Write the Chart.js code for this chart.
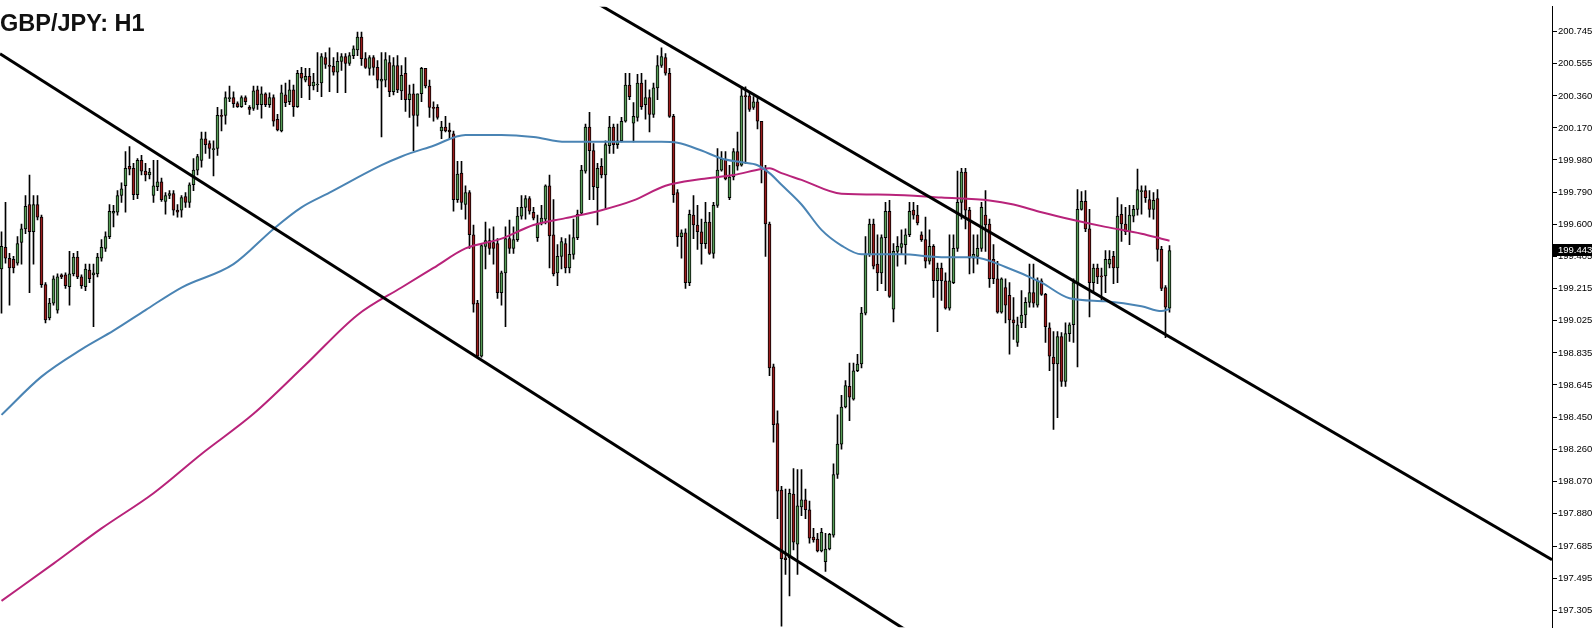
<!DOCTYPE html>
<html>
<head>
<meta charset="utf-8">
<title>GBP/JPY: H1</title>
<script src="https://cdn.jsdelivr.net/npm/chart.js@4.4.1/dist/chart.umd.min.js"></script>
<style>
  html, body { margin: 0; padding: 0; background: #fff; }
  #wrap { position: relative; width: 1592px; height: 634px; }
  #title {
    position: absolute; left: 0; top: 12px;
    font: bold 23.5px "Liberation Sans", Arial, sans-serif;
    line-height: 1; color: #111; white-space: nowrap;
  }
</style>
</head>
<body>
<div id="wrap">
  <canvas id="chart" width="1592" height="634"></canvas>
  <div id="title">GBP/JPY: H1</div>
</div>
<script>
// ---------------------------------------------------------
// GBP/JPY H1 candles (one per hour)
// ---------------------------------------------------------
const openP = [
  199.333,199.461,199.397,199.391,199.368,199.490,199.571,199.716,199.554,199.716,
  199.641,199.240,199.042,199.130,199.089,199.298,199.298,199.228,199.304,199.403,
  199.286,199.228,199.327,199.298,199.304,199.397,199.455,199.525,199.664,199.670,
  199.769,199.827,199.943,199.931,199.774,199.978,199.914,199.891,199.769,199.821,
  199.850,199.734,199.769,199.780,199.682,199.682,199.763,199.728,199.833,199.920,
  199.978,200.106,200.077,200.042,200.048,200.245,200.245,200.344,200.350,200.315,
  200.297,200.350,200.292,200.286,200.396,200.309,200.373,200.309,200.350,200.222,
  200.152,200.367,200.326,200.396,200.297,200.495,200.454,200.477,200.419,200.425,
  200.437,200.588,200.541,200.536,200.501,200.565,200.594,200.553,200.600,200.634,
  200.710,200.582,200.524,200.588,200.530,200.448,200.454,200.559,200.385,200.541,
  200.390,200.495,200.338,200.373,200.245,200.373,200.524,200.419,200.292,200.292,
  200.152,200.175,200.158,200.135,199.745,199.902,199.716,199.786,199.536,199.130,
  198.816,199.467,199.501,199.490,199.484,199.193,199.310,199.513,199.455,199.507,
  199.647,199.699,199.751,199.670,199.519,199.606,199.629,199.827,199.536,199.310,
  199.408,199.484,199.339,199.420,199.519,199.664,199.914,200.175,200.036,199.815,
  199.943,199.891,200.065,200.175,200.071,200.094,200.210,200.425,200.199,200.233,
  200.437,200.309,200.350,200.251,200.408,200.541,200.588,200.495,200.239,199.786,
  199.525,199.548,199.252,199.653,199.594,199.554,199.484,199.612,199.426,199.711,
  199.920,199.984,199.757,199.879,200.030,199.949,200.361,200.361,200.292,200.326,
  200.210,199.931,199.600,198.752,198.415,198.020,197.619,197.619,197.997,197.700,
  197.921,197.962,197.904,197.741,197.729,197.660,197.596,197.671,197.753,198.113,
  198.293,198.514,198.636,198.560,198.729,198.769,199.071,199.420,199.600,199.362,
  199.310,199.519,199.676,199.095,199.438,199.461,199.478,199.536,199.682,199.653,
  199.536,199.507,199.379,199.467,199.263,199.339,199.263,199.101,199.252,199.455,
  199.728,199.908,199.682,199.397,199.408,199.455,199.653,199.600,199.391,199.275,
  199.077,199.223,199.176,199.031,198.897,199.013,199.060,199.135,199.193,199.118,
  199.263,199.182,198.984,198.810,198.769,198.932,198.665,198.949,199.002,199.252,
  199.687,199.734,199.571,199.252,199.339,199.292,199.292,199.362,199.408,199.339,
  199.658,199.600,199.554,199.647,199.687,199.792,199.798,199.745,199.687,199.751,
  199.449,199.223,199.101
];
const highP = [
  199.554,199.728,199.426,199.408,199.525,199.600,199.769,199.891,199.769,199.769,
  199.653,199.252,199.159,199.292,199.304,199.304,199.310,199.438,199.426,199.438,
  199.298,199.362,199.362,199.362,199.426,199.507,199.554,199.716,199.711,199.798,
  199.844,200.030,200.059,199.960,199.989,200.007,199.960,199.931,199.978,199.978,
  199.873,199.786,199.798,199.798,199.716,199.769,199.786,199.844,199.989,200.013,
  200.146,200.146,200.094,200.094,200.292,200.280,200.385,200.419,200.385,200.326,
  200.361,200.361,200.303,200.419,200.419,200.414,200.379,200.379,200.367,200.251,
  200.425,200.437,200.454,200.425,200.512,200.530,200.524,200.524,200.495,200.617,
  200.611,200.617,200.646,200.588,200.617,200.611,200.611,200.617,200.658,200.739,
  200.739,200.617,200.600,200.600,200.570,200.617,200.617,200.600,200.588,200.600,
  200.541,200.588,200.425,200.431,200.373,200.530,200.524,200.454,200.326,200.309,
  200.210,200.239,200.199,200.152,199.972,199.972,199.827,199.798,199.594,199.147,
  199.484,199.612,199.571,199.583,199.513,199.321,199.583,199.624,199.583,199.699,
  199.769,199.769,199.763,199.699,199.653,199.711,199.833,199.891,199.745,199.478,
  199.519,199.513,199.536,199.629,199.682,199.949,200.193,200.263,200.077,199.960,
  199.989,200.094,200.239,200.193,200.193,200.233,200.495,200.495,200.321,200.489,
  200.495,200.454,200.396,200.437,200.600,200.646,200.611,200.524,200.251,199.804,
  199.565,199.571,199.682,199.769,199.711,199.629,199.728,199.670,199.728,200.048,
  200.030,200.030,199.949,200.048,200.146,200.414,200.414,200.385,200.356,200.356,
  200.210,199.949,199.612,198.769,198.491,198.043,198.026,198.026,198.148,198.142,
  198.142,198.026,197.956,197.793,197.764,197.793,197.764,197.764,198.177,198.467,
  198.583,198.671,198.775,198.775,198.827,199.106,199.525,199.629,199.629,199.536,
  199.536,199.728,199.740,199.484,199.525,199.565,199.571,199.728,199.728,199.711,
  199.554,199.641,199.565,199.478,199.368,199.368,199.310,199.536,199.536,199.914,
  199.931,199.931,199.699,199.536,199.536,199.728,199.798,199.629,199.478,199.379,
  199.281,199.275,199.252,199.164,199.048,199.205,199.164,199.362,199.362,199.281,
  199.275,199.188,199.013,198.961,198.961,198.955,199.013,199.013,199.275,199.804,
  199.792,199.798,199.687,199.362,199.362,199.339,199.443,199.443,199.438,199.757,
  199.716,199.699,199.711,199.711,199.926,199.827,199.827,199.798,199.786,199.804,
  199.467,199.234,199.472
];
const lowP = [
  199.071,199.368,199.118,199.310,199.356,199.362,199.542,199.193,199.362,199.624,
  199.223,199.013,199.031,199.118,199.071,199.275,199.217,199.118,199.292,199.275,
  199.217,199.205,199.252,198.990,199.286,199.379,199.438,199.513,199.583,199.653,
  199.728,199.670,199.891,199.745,199.751,199.891,199.856,199.867,199.728,199.798,
  199.734,199.658,199.751,199.653,199.641,199.641,199.699,199.699,199.798,199.891,
  199.937,200.019,199.989,199.885,200.007,200.152,200.193,200.326,200.292,200.292,
  200.292,200.309,200.251,200.274,200.280,200.228,200.297,200.292,200.181,200.152,
  200.146,200.297,200.309,200.239,200.292,200.350,200.443,200.338,200.396,200.385,
  200.356,200.524,200.385,200.483,200.379,200.512,200.379,200.541,200.582,200.600,
  200.541,200.524,200.483,200.483,200.408,200.117,200.414,200.356,200.367,200.379,
  200.338,200.268,200.233,200.036,200.181,200.326,200.408,200.233,200.210,200.222,
  200.106,200.146,200.106,199.676,199.728,199.687,199.629,199.455,199.077,198.810,
  198.810,199.333,199.420,199.362,199.159,199.118,198.990,199.426,199.426,199.496,
  199.629,199.629,199.658,199.624,199.496,199.594,199.600,199.339,199.292,199.234,
  199.333,199.310,199.310,199.391,199.507,199.658,199.902,199.745,199.745,199.594,
  199.873,199.687,200.019,200.019,200.048,200.088,200.204,200.338,200.088,200.210,
  200.280,200.222,200.146,200.233,200.338,200.530,200.483,200.233,199.728,199.467,
  199.397,199.217,199.234,199.513,199.449,199.362,199.455,199.420,199.397,199.699,
  199.914,199.862,199.745,199.862,199.920,199.943,199.960,200.268,200.280,200.164,
  199.844,199.408,198.700,198.305,197.851,197.212,197.520,197.392,197.665,197.520,
  197.869,197.851,197.706,197.712,197.654,197.654,197.538,197.665,197.741,198.090,
  198.264,198.508,198.432,198.554,198.723,198.746,199.060,199.408,199.333,199.205,
  199.246,199.205,199.164,199.019,199.350,199.420,199.362,199.525,199.629,199.594,
  199.496,199.339,199.362,199.164,198.961,199.147,199.095,199.089,199.246,199.438,
  199.629,199.571,199.304,199.310,199.362,199.438,199.438,199.223,199.246,199.071,
  199.071,199.013,198.827,198.915,198.874,198.984,198.984,199.106,199.106,199.106,
  199.176,198.897,198.729,198.380,198.450,198.636,198.636,198.903,198.897,198.752,
  199.682,199.554,199.048,199.193,199.246,199.147,199.193,199.339,199.246,199.252,
  199.496,199.536,199.478,199.612,199.653,199.658,199.728,199.641,199.629,199.379,
  199.205,198.926,199.077
];
const closeP = [
  199.467,199.397,199.339,199.339,199.484,199.571,199.705,199.554,199.716,199.641,
  199.240,199.031,199.130,199.275,199.286,199.286,199.234,199.304,199.403,199.286,
  199.234,199.333,199.275,199.310,199.403,199.461,199.525,199.676,199.676,199.769,
  199.809,199.931,199.926,199.774,199.978,199.914,199.891,199.908,199.827,199.850,
  199.745,199.769,199.780,199.682,199.670,199.757,199.728,199.833,199.920,200.001,
  200.106,200.071,200.048,200.048,200.245,200.239,200.350,200.350,200.315,200.297,
  200.350,200.326,200.280,200.390,200.309,200.373,200.309,200.350,200.210,200.158,
  200.379,200.321,200.396,200.297,200.495,200.466,200.477,200.419,200.443,200.431,
  200.594,200.547,200.536,200.501,200.565,200.594,200.553,200.600,200.640,200.710,
  200.582,200.530,200.588,200.530,200.454,200.460,200.576,200.385,200.541,200.396,
  200.483,200.338,200.373,200.245,200.373,200.524,200.419,200.292,200.286,200.233,
  200.175,200.152,200.146,199.745,199.897,199.728,199.786,199.536,199.124,198.816,
  199.472,199.501,199.455,199.455,199.193,199.310,199.513,199.455,199.507,199.647,
  199.699,199.751,199.676,199.635,199.606,199.635,199.827,199.530,199.304,199.408,
  199.496,199.339,199.420,199.519,199.658,199.920,200.175,200.036,199.821,199.931,
  199.891,200.071,200.175,200.071,200.094,200.210,200.425,200.356,200.239,200.437,
  200.297,200.350,200.251,200.408,200.541,200.594,200.495,200.239,199.774,199.525,
  199.548,199.252,199.658,199.594,199.554,199.484,199.612,199.426,199.711,199.920,
  199.984,199.867,199.879,200.030,199.943,200.361,200.356,200.280,200.326,200.210,
  199.931,199.600,198.746,198.409,198.014,197.613,197.607,198.002,197.712,197.927,
  197.962,197.904,197.735,197.724,197.660,197.770,197.671,197.758,198.113,198.293,
  198.514,198.641,198.572,198.729,198.769,199.071,199.420,199.600,199.350,199.310,
  199.519,199.676,199.170,199.438,199.467,199.484,199.536,199.676,199.653,199.606,
  199.507,199.379,199.467,199.263,199.339,199.263,199.101,199.263,199.455,199.728,
  199.908,199.682,199.397,199.420,199.455,199.699,199.594,199.275,199.275,199.077,
  199.275,199.118,199.031,199.013,199.002,199.060,199.135,199.193,199.130,199.263,
  199.182,198.990,198.816,198.769,198.932,198.665,198.949,199.002,199.252,199.687,
  199.734,199.571,199.252,199.339,199.286,199.286,199.391,199.391,199.339,199.647,
  199.600,199.554,199.653,199.687,199.804,199.798,199.757,199.687,199.740,199.449,
  199.217,199.106,199.443
];

// moving averages, sampled at these candle numbers
const maBlueIdx = [0,10,20,28,36,45,58,68,75,82,95,100,108,116,125,133,141,150,165,169,
  175,180,185,189,192,195,200,205,210,215,225,235,243,251,260,267,276,285,290,292];
const maBlue = [198.467,198.694,198.856,198.967,199.089,199.223,199.362,199.571,199.699,199.786,
  199.949,200.001,200.065,200.129,200.129,200.117,200.088,200.088,200.088,200.082,
  200.036,199.989,199.966,199.949,199.902,199.833,199.716,199.565,199.472,199.420,
  199.420,199.403,199.403,199.345,199.252,199.159,199.141,199.112,199.083,199.095];

const maPinkIdx = [0,13,25,38,50,63,76,89,100,108,116,125,133,141,150,158,166,175,183,190,
  192,195,200,210,222,235,247,253,260,268,276,285,290,292];
const maPink = [197.363,197.584,197.793,198.002,198.235,198.473,198.764,199.060,199.223,199.339,
  199.455,199.513,199.594,199.635,199.682,199.740,199.827,199.867,199.891,199.926,
  199.931,199.902,199.862,199.780,199.774,199.757,199.740,199.716,199.670,199.624,
  199.583,199.542,199.513,199.501];

// hand-drawn channel lines: [candle number, price] at both ends
const lowerLine = [[-0.375, 200.611], [300, 196.073]];
const upperLine = [[100, 201.587], [387.625, 197.607]];

// price axis labels as shown by the terminal
const yTicks = [200.745,200.555,200.360,200.170,199.980,199.790,199.600,199.405,199.215,
  199.025,198.835,198.645,198.450,198.260,198.070,197.880,197.685,197.495,197.305];

const UP = '#559b55';
const DOWN = '#9a1c1c';
const BLUE = '#4a84b4';
const PINK = '#b8237a';

const idx = openP.map((_, i) => i);
const last = idx.length - 1;

const wickData = idx.map(i => ({ x: i, y: [lowP[i], highP[i]] }));
const bodyData = idx.map(i => ({ x: i, y: [openP[i], closeP[i]] }));
const bodyColors = idx.map(i => closeP[i] >= openP[i] ? UP : DOWN);

const toPts = (xs, ys) => xs.map((x, k) => ({ x: x, y: ys[k] }));
const pairPts = arr => arr.map(p => ({ x: p[0], y: p[1] }));

// black box with the last price on the axis
const lastPriceBox = {
    id: 'lastPriceBox',
    afterDraw(chart) {
        const ctx = chart.ctx;
        const y = Math.round(chart.scales.y.getPixelForValue(closeP[last]));
        const x0 = chart.chartArea.right + 1;
        ctx.save();
        ctx.fillStyle = '#000';
        ctx.fillRect(x0, y - 6, chart.width - x0, 12);
        ctx.fillStyle = '#fff';
        ctx.font = '9.5px "Liberation Sans", Arial, sans-serif';
        ctx.textBaseline = 'middle';
        ctx.fillText(closeP[last].toFixed(3), x0 + 5, y + 0.5);
        ctx.restore();
    }
};

new Chart(document.getElementById('chart'), {
    type: 'bar',
    data: {
        datasets: [
            {
                type: 'line', data: pairPts(upperLine), borderColor: '#000', borderWidth: 3,
                pointRadius: 0, order: 1
            },
            {
                type: 'line', data: pairPts(lowerLine), borderColor: '#000', borderWidth: 3,
                pointRadius: 0, order: 1
            },
            {
                type: 'line', data: toPts(maBlueIdx, maBlue), borderColor: BLUE, borderWidth: 2,
                pointRadius: 0, cubicInterpolationMode: 'monotone', order: 2
            },
            {
                type: 'line', data: toPts(maPinkIdx, maPink), borderColor: PINK, borderWidth: 2,
                pointRadius: 0, cubicInterpolationMode: 'monotone', order: 2
            },
            {
                data: bodyData, backgroundColor: bodyColors, borderColor: '#000', borderWidth: 1,
                borderSkipped: false, barThickness: 3, minBarLength: 1, grouped: false, order: 3
            },
            {
                data: wickData, backgroundColor: '#000', borderWidth: 0,
                barThickness: 1, grouped: false, order: 4
            }
        ]
    },
    options: {
        responsive: false,
        animation: false,
        events: [],
        layout: { padding: 0 },
        plugins: { legend: { display: false }, tooltip: { enabled: false } },
        scales: {
            x: { type: 'linear', min: -0.375, max: 387.625, display: false, offset: false },
            y: {
                position: 'right',
                min: 197.206,
                max: 200.890,
                afterBuildTicks: scale => { scale.ticks = yTicks.map(v => ({ value: v })); },
                afterFit: scale => { scale.width = 40; },
                grid: { drawOnChartArea: false, color: '#000', tickLength: 5 },
                border: { display: true, color: '#000', width: 1 },
                ticks: {
                    color: '#000', padding: 1, autoSkip: false,
                    font: { family: '"Liberation Sans", Arial, sans-serif', size: 9.5 },
                    callback: v => Number(v).toFixed(3)
                }
            }
        }
    },
    plugins: [lastPriceBox]
});
</script>
</body>
</html>
